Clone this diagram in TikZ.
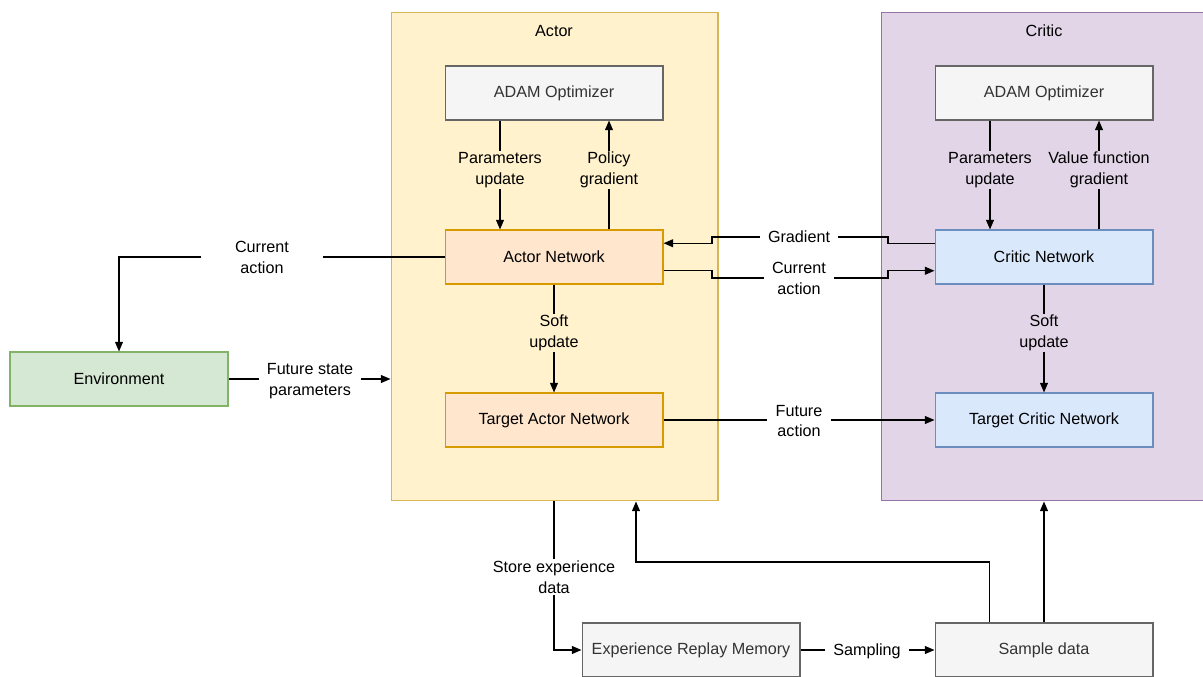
\documentclass[tikz,border=0pt]{standalone}
\usepackage{fontspec}
\setmainfont{Liberation Sans}
\usetikzlibrary{arrows.meta,positioning,calc}
\definecolor{actorFill}{HTML}{FFF2CC}
\definecolor{actorLine}{HTML}{D6B656}
\definecolor{criticFill}{HTML}{E1D5E7}
\definecolor{criticLine}{HTML}{9673A6}
\definecolor{optFill}{HTML}{F5F5F5}
\definecolor{optLine}{HTML}{666666}
\definecolor{optText}{HTML}{333333}
\definecolor{netFill}{HTML}{FFE6CC}
\definecolor{netLine}{HTML}{D79B00}
\definecolor{cnetFill}{HTML}{DAE8FC}
\definecolor{cnetLine}{HTML}{6C8EBF}
\definecolor{envFill}{HTML}{D5E8D4}
\definecolor{envLine}{HTML}{82B366}

\begin{document}
\begin{tikzpicture}[x=0.02cm,y=-0.02cm,font=\fontsize{9.2}{11.9}\selectfont,
  group/.style={draw,line width=0.6pt,minimum width=6.54cm,minimum height=9.78cm,inner sep=0pt},
  box/.style={draw,line width=0.6pt,minimum width=4.36cm,minimum height=1.08cm,inner sep=0pt},
  optbox/.style={box,fill=optFill,draw=optLine,text=optText},
  anet/.style={box,fill=netFill,draw=netLine},
  cnet/.style={box,fill=cnetFill,draw=cnetLine},
  lbl/.style={align=center,inner xsep=4.5pt,inner ysep=0.6pt},
  wire/.style={line width=0.75pt},
  flow/.style={wire,-{Triangle[length=5.5pt,width=4.5pt]}}]
  \useasboundingbox (0,0) rectangle (1203,676);

  \node[group,fill=actorFill,draw=actorLine] (actor) at (554.5,256.5) {};
  \node[group,fill=criticFill,draw=criticLine] (critic) at (1044.5,256.5) {};
  \node (actorTitle) at (554,31) {Actor};
  \node (criticTitle) at (1044,31) {Critic};

  \node[optbox] (aOpt) at (554,93) {ADAM Optimizer};
  \node[anet] (aNet) at (554,257) {Actor Network};
  \node[anet] (taNet) at (554,420) {Target Actor Network};
  \node[optbox] (cOpt) at (1044,93) {ADAM Optimizer};
  \node[cnet] (cNet) at (1044,257) {Critic Network};
  \node[cnet] (tcNet) at (1044,420) {Target Critic Network};
  \node[box,fill=envFill,draw=envLine] (env) at (119,379) {Environment};
  \node[optbox] (erm) at (691,650) {Experience Replay Memory};
  \node[optbox] (sd) at (1044,650) {Sample data};

  \node[lbl] (aPU) at (500,170) {Parameters\\update};
  \node[lbl] (aPG) at (609,170) {Policy\\gradient};
  \node[lbl] (cPU) at (990,170) {Parameters\\update};
  \node[lbl] (cPG) at (1099,170) {Value function\\gradient};
  \node[lbl,minimum width=2.44cm] (curL) at (262,257) {Current\\action};
  \node[lbl] (fsp) at (310,381) {Future state\\parameters};
  \node[lbl] (grad) at (799,237) {Gradient};
  \node[lbl] (curM) at (799,278) {Current\\action};
  \node[lbl] (su1) at (554,333) {Soft\\update};
  \node[lbl] (su2) at (1044,333) {Soft\\update};
  \node[lbl] (fa) at (799,421) {Future\\action};
  \node[lbl] (store) at (554,577) {Store experience\\data};
  \node[lbl] (samp) at (867,651) {Sampling};

  \coordinate (jogL) at (712,0);
  \coordinate (jogR) at (888,0);
  \coordinate (ret) at (636,562);
  \coordinate (aNetUp) at ($(aNet.north east)!0.25!(aNet.south east)$);
  \coordinate (aNetDn) at ($(aNet.north east)!0.75!(aNet.south east)$);
  \coordinate (cNetUp) at ($(cNet.north west)!0.25!(cNet.south west)$);
  \coordinate (cNetDn) at ($(cNet.north west)!0.75!(cNet.south west)$);
  \coordinate (sdL) at ($(sd.north west)!0.25!(sd.north east)$);

  \draw[wire] (aOpt.south -| aPU) -- (aPU.north);
  \draw[flow] (aPU.south) -- (aNet.north -| aPU);
  \draw[wire] (aNet.north -| aPG) -- (aPG.south);
  \draw[flow] (aPG.north) -- (aOpt.south -| aPG);
  \draw[wire] (cOpt.south -| cPU) -- (cPU.north);
  \draw[flow] (cPU.south) -- (cNet.north -| cPU);
  \draw[wire] (cNet.north -| cPG) -- (cPG.south);
  \draw[flow] (cPG.north) -- (cOpt.south -| cPG);

  \draw[wire] (aNet.west) -- (aNet.west -| curL.east);
  \draw[flow] (aNet.west -| curL.west) -| (env.north);
  \draw[wire] (env.east) -- (env.east -| fsp.west);
  \draw[flow] (env.east -| fsp.east) -- (env.east -| actor.west);

  \draw[wire] (cNetUp) -- (jogR |- cNetUp) -- (jogR |- grad) -- (grad.east);
  \draw[flow] (grad.west) -- (jogL |- grad) -- (jogL |- aNetUp) -- (aNetUp);
  \draw[wire] (aNetDn) -- (jogL |- aNetDn) -- (jogL |- curM) -- (curM.west);
  \draw[flow] (curM.east) -- (jogR |- curM) -- (jogR |- cNetDn) -- (cNetDn);

  \draw[wire] (aNet.south) -- (su1.north);
  \draw[flow] (su1.south) -- (taNet.north);
  \draw[wire] (cNet.south) -- (su2.north);
  \draw[flow] (su2.south) -- (tcNet.north);
  \draw[wire] (taNet.east) -- (taNet.east -| fa.west);
  \draw[flow] (taNet.east -| fa.east) -- (tcNet.west);

  \draw[wire] (store.north |- actor.south) -- (store.north);
  \draw[flow] (store.south) |- (erm.west);
  \draw[wire] (erm.east) -- (erm.east -| samp.west);
  \draw[flow] (erm.east -| samp.east) -- (sd.west);
  \draw[flow] (sdL) |- (ret) -- (ret |- actor.south);
  \draw[flow] (sd.north) -- (sd.north |- critic.south);
\end{tikzpicture}
\end{document}
